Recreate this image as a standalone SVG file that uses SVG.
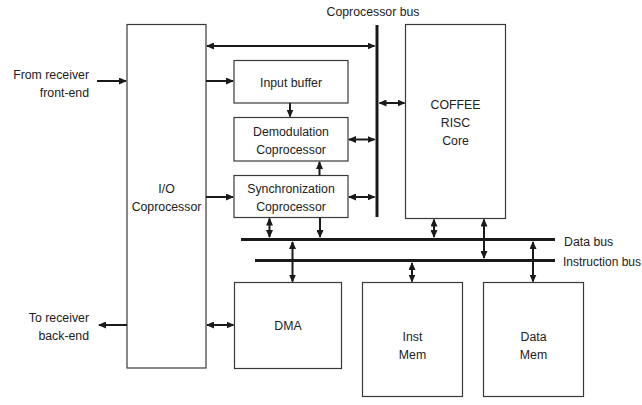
<svg xmlns="http://www.w3.org/2000/svg" width="642" height="405" viewBox="0 0 642 405">
  <defs>
    <marker id="head" viewBox="0 0 8 7" refX="7" refY="3.5" markerWidth="8" markerHeight="7" markerUnits="userSpaceOnUse" orient="auto-start-reverse">
      <path d="M0,0 L8,3.5 L0,7 z" fill="#1a1a1a"/>
    </marker>
  </defs>
  <style>
    .box { fill: #ffffff; stroke: #3a3a3a; stroke-width: 1.2; }
    .lbl { font-family: "Liberation Sans", Arial, sans-serif; font-size: 12.3px; fill: #222222; }
    .mid { text-anchor: middle; }
    .end { text-anchor: end; }
    .bus { stroke: #1a1a1a; stroke-width: 3; fill: none; }
    .wire { stroke: #1a1a1a; stroke-width: 2; fill: none; }
    .one { marker-end: url(#head); }
    .two { marker-start: url(#head); marker-end: url(#head); }
  </style>
  <rect width="642" height="405" fill="#ffffff"/>

  <!-- blocks -->
  <g id="io">
    <rect class="box" x="127" y="24.5" width="79" height="343.5"/>
    <text class="lbl mid" x="166.5" y="193">I/O</text>
    <text class="lbl mid" x="166.5" y="211">Coprocessor</text>
  </g>
  <g id="input-buffer">
    <rect class="box" x="234" y="60.5" width="114" height="42.5"/>
    <text class="lbl mid" x="291" y="86.5">Input buffer</text>
  </g>
  <g id="demod">
    <rect class="box" x="234" y="117.5" width="114" height="43.5"/>
    <text class="lbl mid" x="291" y="136">Demodulation</text>
    <text class="lbl mid" x="291" y="154">Coprocessor</text>
  </g>
  <g id="sync">
    <rect class="box" x="234" y="175.5" width="114" height="42"/>
    <text class="lbl mid" x="291" y="193">Synchronization</text>
    <text class="lbl mid" x="291" y="211">Coprocessor</text>
  </g>
  <g id="risc">
    <rect class="box" x="405.5" y="24.5" width="100" height="194"/>
    <text class="lbl mid" x="455.5" y="109">COFFEE</text>
    <text class="lbl mid" x="455.5" y="127">RISC</text>
    <text class="lbl mid" x="455.5" y="145">Core</text>
  </g>
  <g id="dma">
    <rect class="box" x="234.5" y="282.5" width="107" height="86"/>
    <text class="lbl mid" x="288" y="330">DMA</text>
  </g>
  <g id="inst-mem">
    <rect class="box" x="362.5" y="282.5" width="100" height="114"/>
    <text class="lbl mid" x="412.5" y="341">Inst</text>
    <text class="lbl mid" x="412.5" y="358.5">Mem</text>
  </g>
  <g id="data-mem">
    <rect class="box" x="483.5" y="282.5" width="100" height="114"/>
    <text class="lbl mid" x="533.5" y="341">Data</text>
    <text class="lbl mid" x="533.5" y="358.5">Mem</text>
  </g>

  <!-- buses -->
  <g id="buses">
    <line class="bus" x1="377" y1="25" x2="377" y2="217"/>
    <line class="bus" x1="241" y1="239.5" x2="555" y2="239.5"/>
    <line class="bus" x1="255" y1="260.5" x2="555" y2="260.5"/>
    <text class="lbl mid" x="373" y="16">Coprocessor bus</text>
    <text class="lbl" x="564" y="246">Data bus</text>
    <text class="lbl" x="563" y="265.5" style="font-size:12px">Instruction bus</text>
  </g>

  <!-- external labels -->
  <g id="ext">
    <text class="lbl end" x="89" y="79">From receiver</text>
    <text class="lbl end" x="89" y="97">front-end</text>
    <text class="lbl end" x="89" y="322">To receiver</text>
    <text class="lbl end" x="89" y="339.5">back-end</text>
  </g>

  <!-- connectors -->
  <g id="connectors">
    <line class="wire one" x1="97" y1="81" x2="126" y2="81"/>
    <line class="wire two" x1="207" y1="46" x2="374.5" y2="46"/>
    <line class="wire one" x1="206" y1="81" x2="233" y2="81"/>
    <line class="wire one" x1="290" y1="103" x2="290" y2="116.5"/>
    <line class="wire two" x1="379.5" y1="103" x2="404.5" y2="103"/>
    <line class="wire two" x1="349" y1="139.5" x2="374.5" y2="139.5"/>
    <line class="wire one" x1="319.5" y1="175.5" x2="319.5" y2="162"/>
    <line class="wire one" x1="206" y1="197" x2="233" y2="197"/>
    <line class="wire two" x1="349" y1="197" x2="374.5" y2="197"/>
    <line class="wire two" x1="269.5" y1="218.5" x2="269.5" y2="237"/>
    <line class="wire one" x1="320" y1="217.5" x2="320" y2="237"/>
    <line class="wire two" x1="434" y1="219.5" x2="434" y2="237"/>
    <line class="wire two" x1="484" y1="219.5" x2="484" y2="258"/>
    <line class="wire two" x1="292.5" y1="242" x2="292.5" y2="281.5"/>
    <line class="wire two" x1="412" y1="263" x2="412" y2="281.5"/>
    <line class="wire two" x1="533" y1="242" x2="533" y2="281.5"/>
    <line class="wire one" x1="127" y1="325" x2="99" y2="325"/>
    <line class="wire two" x1="207" y1="325" x2="233.5" y2="325"/>
  </g>
</svg>
